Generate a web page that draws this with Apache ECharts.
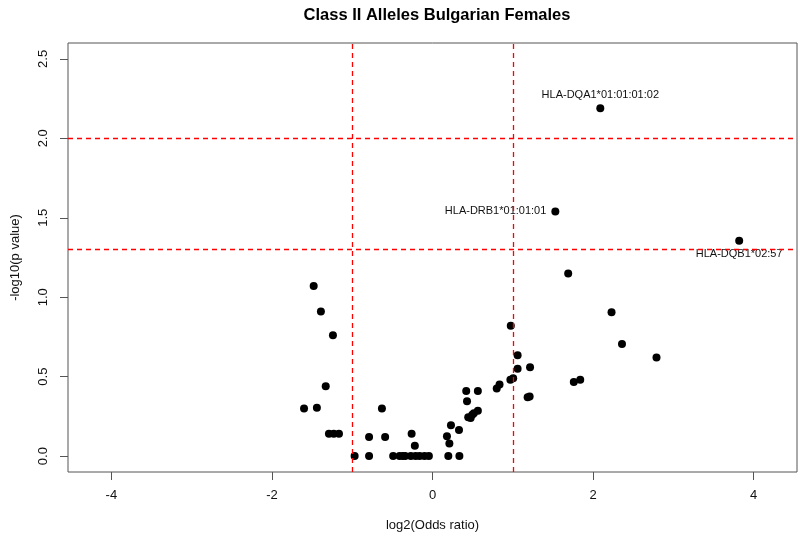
<!DOCTYPE html>
<html>
<head>
<meta charset="utf-8">
<script src="https://cdn.jsdelivr.net/npm/echarts@6/dist/echarts.min.js"></script>
<style>html,body{margin:0;padding:0;background:#fff;}#chart{width:800px;height:541px;}</style>
</head>
<body>
<div id="chart"></div>
<script>
// log2(Odds ratio)
const log2OR = [
  -1.48, -1.39, -1.24, -1.33, -1.60, -1.44, -1.29, -1.23, -1.165,
  -0.63, -0.79, -0.59, -0.26, -0.22,
  -0.97, -0.79, -0.49, -0.41, -0.37, -0.34, -0.27, -0.21, -0.16, -0.10, -0.045, 0.197, 0.335,
  0.18, 0.21, 0.23, 0.33, 0.42, 0.565, 0.43, 0.445, 0.475, 0.495, 0.515, 0.565,
  0.80, 0.835, 0.975, 0.97, 1.005, 1.06, 1.06, 1.215, 1.185, 1.21,
  1.69, 2.23, 2.36, 2.79, 1.76, 1.84
];
// -log10(p value)
const negLog10P = [
  1.07, 0.91, 0.76, 0.44, 0.30, 0.305, 0.14, 0.14, 0.14,
  0.30, 0.12, 0.12, 0.14, 0.065,
  0, 0, 0, 0, 0, 0, 0, 0, 0, 0, 0, 0, 0,
  0.125, 0.08, 0.195, 0.165, 0.41, 0.41, 0.345, 0.245, 0.24, 0.26, 0.27, 0.285,
  0.425, 0.45, 0.82, 0.48, 0.49, 0.635, 0.55, 0.56, 0.37, 0.375,
  1.15, 0.905, 0.705, 0.62, 0.467, 0.48
];
// labelled alleles
const labelNames = ["HLA-DQA1*01:01:01:02", "HLA-DRB1*01:01:01", "HLA-DQB1*02:57"];
const labelX = [2.09, 1.53, 3.82];
const labelY = [2.19, 1.54, 1.355];
const labelPos = ["top", "left", "bottom"];

const xTicks = [-4, -2, 0, 2, 4];
const yTicks = [0, 0.5, 1, 1.5, 2, 2.5];
const vLines = [-1, 1];
const hLines = [2, 1.3];

const chart = echarts.init(document.getElementById('chart'), null, {renderer: 'canvas'});
const font = 'Liberation Sans, Arial, sans-serif';
const refStyle = () => ({color: '#ff0000', type: [5, 4], width: 1.3, opacity: 1});

const pts = log2OR.map((x, i) => [x, negLog10P[i]]);
const labPts = labelX.map((x, i) => ({
  value: [x, labelY[i]],
  label: {show: true, formatter: labelNames[i], position: labelPos[i], distance: labelPos[i] === 'left' ? 5 : 4,
          color: '#111', fontSize: 11, fontFamily: font}
}));

const refSeries = [];
vLines.forEach(v => refSeries.push({
  type: 'scatter', data: [], silent: true,
  markLine: {silent: true, symbol: 'none', label: {show: false}, lineStyle: refStyle(),
             emphasis: {disabled: true}, data: [{xAxis: v}]}
}));
hLines.forEach(v => refSeries.push({
  type: 'scatter', data: [], silent: true,
  markLine: {silent: true, symbol: 'none', label: {show: false}, lineStyle: refStyle(),
             emphasis: {disabled: true}, data: [{yAxis: v}]}
}));

chart.setOption({
  animation: false,
  title: {
    text: 'Class II Alleles Bulgarian Females',
    left: 432, top: 2, textAlign: 'center',
    textStyle: {fontFamily: font, fontSize: 16.5, fontWeight: 'bold', color: '#000'}
  },
  grid: {left: 68, right: 3, top: 43, bottom: 69, containLabel: false, outerBoundsMode: 'none',
         show: true, borderColor: '#555', borderWidth: 1, backgroundColor: 'transparent'},
  xAxis: {
    type: 'value', min: -4.54, max: 4.54,
    name: 'log2(Odds ratio)', nameLocation: 'middle', nameGap: 47,
    nameTextStyle: {fontFamily: font, fontSize: 13, color: '#111'},
    axisLine: {show: false, onZero: false},
    axisTick: {show: true, customValues: xTicks, length: 8, lineStyle: {color: '#555'}},
    axisLabel: {customValues: xTicks, margin: 17, fontFamily: font, fontSize: 13, color: '#111'},
    splitLine: {show: false}
  },
  yAxis: {
    type: 'value', min: -0.1, max: 2.6,
    name: '-log10(p value)', nameLocation: 'middle', nameGap: 46,
    nameTextStyle: {fontFamily: font, fontSize: 13, color: '#111'},
    axisLine: {show: false, onZero: false},
    axisTick: {show: true, customValues: yTicks, length: 8, lineStyle: {color: '#555'}},
    axisLabel: {customValues: yTicks, margin: 18, rotate: 90, fontFamily: font, fontSize: 13, color: '#111',
                formatter: v => v.toFixed(1)},
    splitLine: {show: false}
  },
  series: [
    ...refSeries,
    {
      type: 'scatter', data: pts, symbolSize: 8, itemStyle: {color: '#000', opacity: 1}
    },
    {
      type: 'scatter', data: labPts, symbolSize: 8, itemStyle: {color: '#000', opacity: 1}
    }
  ]
});
</script>
</body>
</html>
